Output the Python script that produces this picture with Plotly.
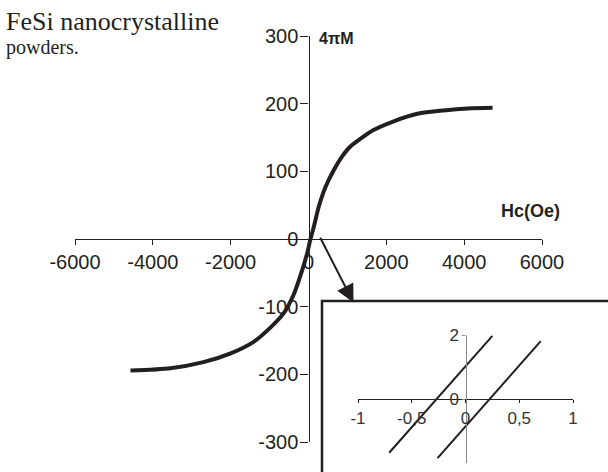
import plotly.graph_objects as go

# Main hysteresis curve (H in Oe, 4piM)
H = [-4575, -3550, -2700, -2000, -1410, -980, -640, -380, -162, -34, 51, 137, 265, 437, 651, 865, 1062, 1260, 1670, 2190, 2800, 3470, 4090, 4730]
M = [-194.5, -191, -182, -169, -152, -131, -110, -82, -46, -21, 0, 18, 48, 77, 102, 122, 136, 145, 161, 174, 185, 190, 193, 194]

x_ticks = [-6000, -4000, -2000, 0, 2000, 4000, 6000]
y_ticks = [-300, -200, -100, 0, 100, 200, 300]

# Inset: zoom near origin, two parallel branches
inset_x1 = [-0.71, 0.25]
inset_y1 = [-1.68, 1.97]
inset_x2 = [-0.26, 0.70]
inset_y2 = [-1.85, 1.81]
inset_xticks = [-1, -0.5, 0, 0.5, 1]
inset_xlabels = ["-1", "-0,5", "0", "0,5", "1"]
inset_yticks = [0, 2]
inset_ylabels = ["0", "2"]

W, Hpx = 608, 472
ink = "#231f20"

def fx(px):
    return px / W

def fy(py):
    return (Hpx - py) / Hpx

fig = go.Figure()
fig.add_trace(go.Scatter(x=H, y=M, mode="lines", line=dict(color=ink, width=4, shape="spline", smoothing=0.7),
                         xaxis="x", yaxis="y", showlegend=False, hoverinfo="skip"))
fig.add_trace(go.Scatter(x=inset_x1, y=inset_y1, mode="lines", line=dict(color=ink, width=2),
                         xaxis="x2", yaxis="y2", showlegend=False, hoverinfo="skip"))
fig.add_trace(go.Scatter(x=inset_x2, y=inset_y2, mode="lines", line=dict(color=ink, width=2),
                         xaxis="x2", yaxis="y2", showlegend=False, hoverinfo="skip"))

xd = [fx(75), fx(542)]
yd = [fy(442), fy(36)]
tickfont = dict(family="Liberation Sans, Arial", size=20, color=ink)

fig.update_layout(
    width=W, height=Hpx, margin=dict(l=0, r=0, t=0, b=0, autoexpand=False),
    paper_bgcolor="white", plot_bgcolor="rgba(0,0,0,0)",
    xaxis=dict(domain=xd, range=[-6000, 6000], anchor="free", position=(yd[0] + yd[1]) / 2,
               showline=True, linecolor=ink, linewidth=1.3, ticks="outside", ticklen=5, tickwidth=1.3,
               tickcolor=ink, tickvals=x_ticks, ticktext=[str(v) for v in x_ticks], tickfont=tickfont,
               showgrid=False, zeroline=False, fixedrange=True, automargin=False),
    yaxis=dict(domain=yd, range=[-300, 300], anchor="free", position=(xd[0] + xd[1]) / 2,
               showline=True, linecolor=ink, linewidth=1.3, ticks="outside", ticklen=8, tickwidth=1.3,
               tickcolor=ink, tickvals=y_ticks, ticktext=[str(v) for v in y_ticks], tickfont=tickfont,
               ticklabelstandoff=-2,
               showgrid=False, zeroline=False, fixedrange=True, automargin=False),
)

x2d = [fx(358), fx(573)]
y2d = [fy(463), fy(335)]
insetfont = dict(family="Liberation Sans, Arial", size=17, color="#333333")
fig.update_layout(
    xaxis2=dict(domain=x2d, range=[-1, 1], anchor="free", position=(y2d[0] + y2d[1]) / 2,
                showline=True, linecolor=ink, linewidth=1.2, ticks="outside", ticklen=3, tickwidth=1,
                tickcolor=ink, tickvals=inset_xticks, ticktext=inset_xlabels, tickfont=insetfont,
                showgrid=False, zeroline=False, fixedrange=True, automargin=False),
    yaxis2=dict(domain=y2d, range=[-2, 2], anchor="free", position=(x2d[0] + x2d[1]) / 2,
                showline=True, linecolor="#8a8a8a", linewidth=1.2, ticks="outside", ticklen=3, tickwidth=1,
                tickcolor="#8a8a8a", tickvals=inset_yticks, ticktext=inset_ylabels, tickfont=insetfont,
                showgrid=False, zeroline=False, fixedrange=True, automargin=False),
)

# Inset frame
fig.add_shape(type="rect", xref="paper", yref="paper", x0=fx(322), y0=fy(480), x1=fx(620), y1=fy(301),
              line=dict(color=ink, width=2.5), fillcolor="rgba(0,0,0,0)")

# Arrow from origin to inset
fig.add_annotation(xref="x", yref="y", axref="x", ayref="y", x=1156, y=-94, ax=283, ay=4,
                   showarrow=True, arrowhead=2, arrowsize=1.8, arrowwidth=2, arrowcolor=ink, text="")

fig.add_annotation(xref="paper", yref="paper", x=fx(317), y=fy(38), xanchor="left", yanchor="middle",
                   text="<b>4πM</b>", showarrow=False, font=dict(family="Liberation Sans, Arial", size=16, color=ink))
fig.add_annotation(xref="paper", yref="paper", x=fx(562), y=fy(211), xanchor="right", yanchor="middle",
                   text="<b>Hc(Oe)</b>", showarrow=False, font=dict(family="Liberation Sans, Arial", size=18, color=ink))
fig.add_annotation(xref="paper", yref="paper", x=fx(4), y=fy(22), xanchor="left", yanchor="middle",
                   text="FeSi nanocrystalline", showarrow=False, font=dict(family="Liberation Serif, Times New Roman", size=26, color=ink))
fig.add_annotation(xref="paper", yref="paper", x=fx(4), y=fy(48), xanchor="left", yanchor="middle",
                   text="powders.", showarrow=False, font=dict(family="Liberation Serif, Times New Roman", size=20, color=ink))

fig.write_html("out.html")
